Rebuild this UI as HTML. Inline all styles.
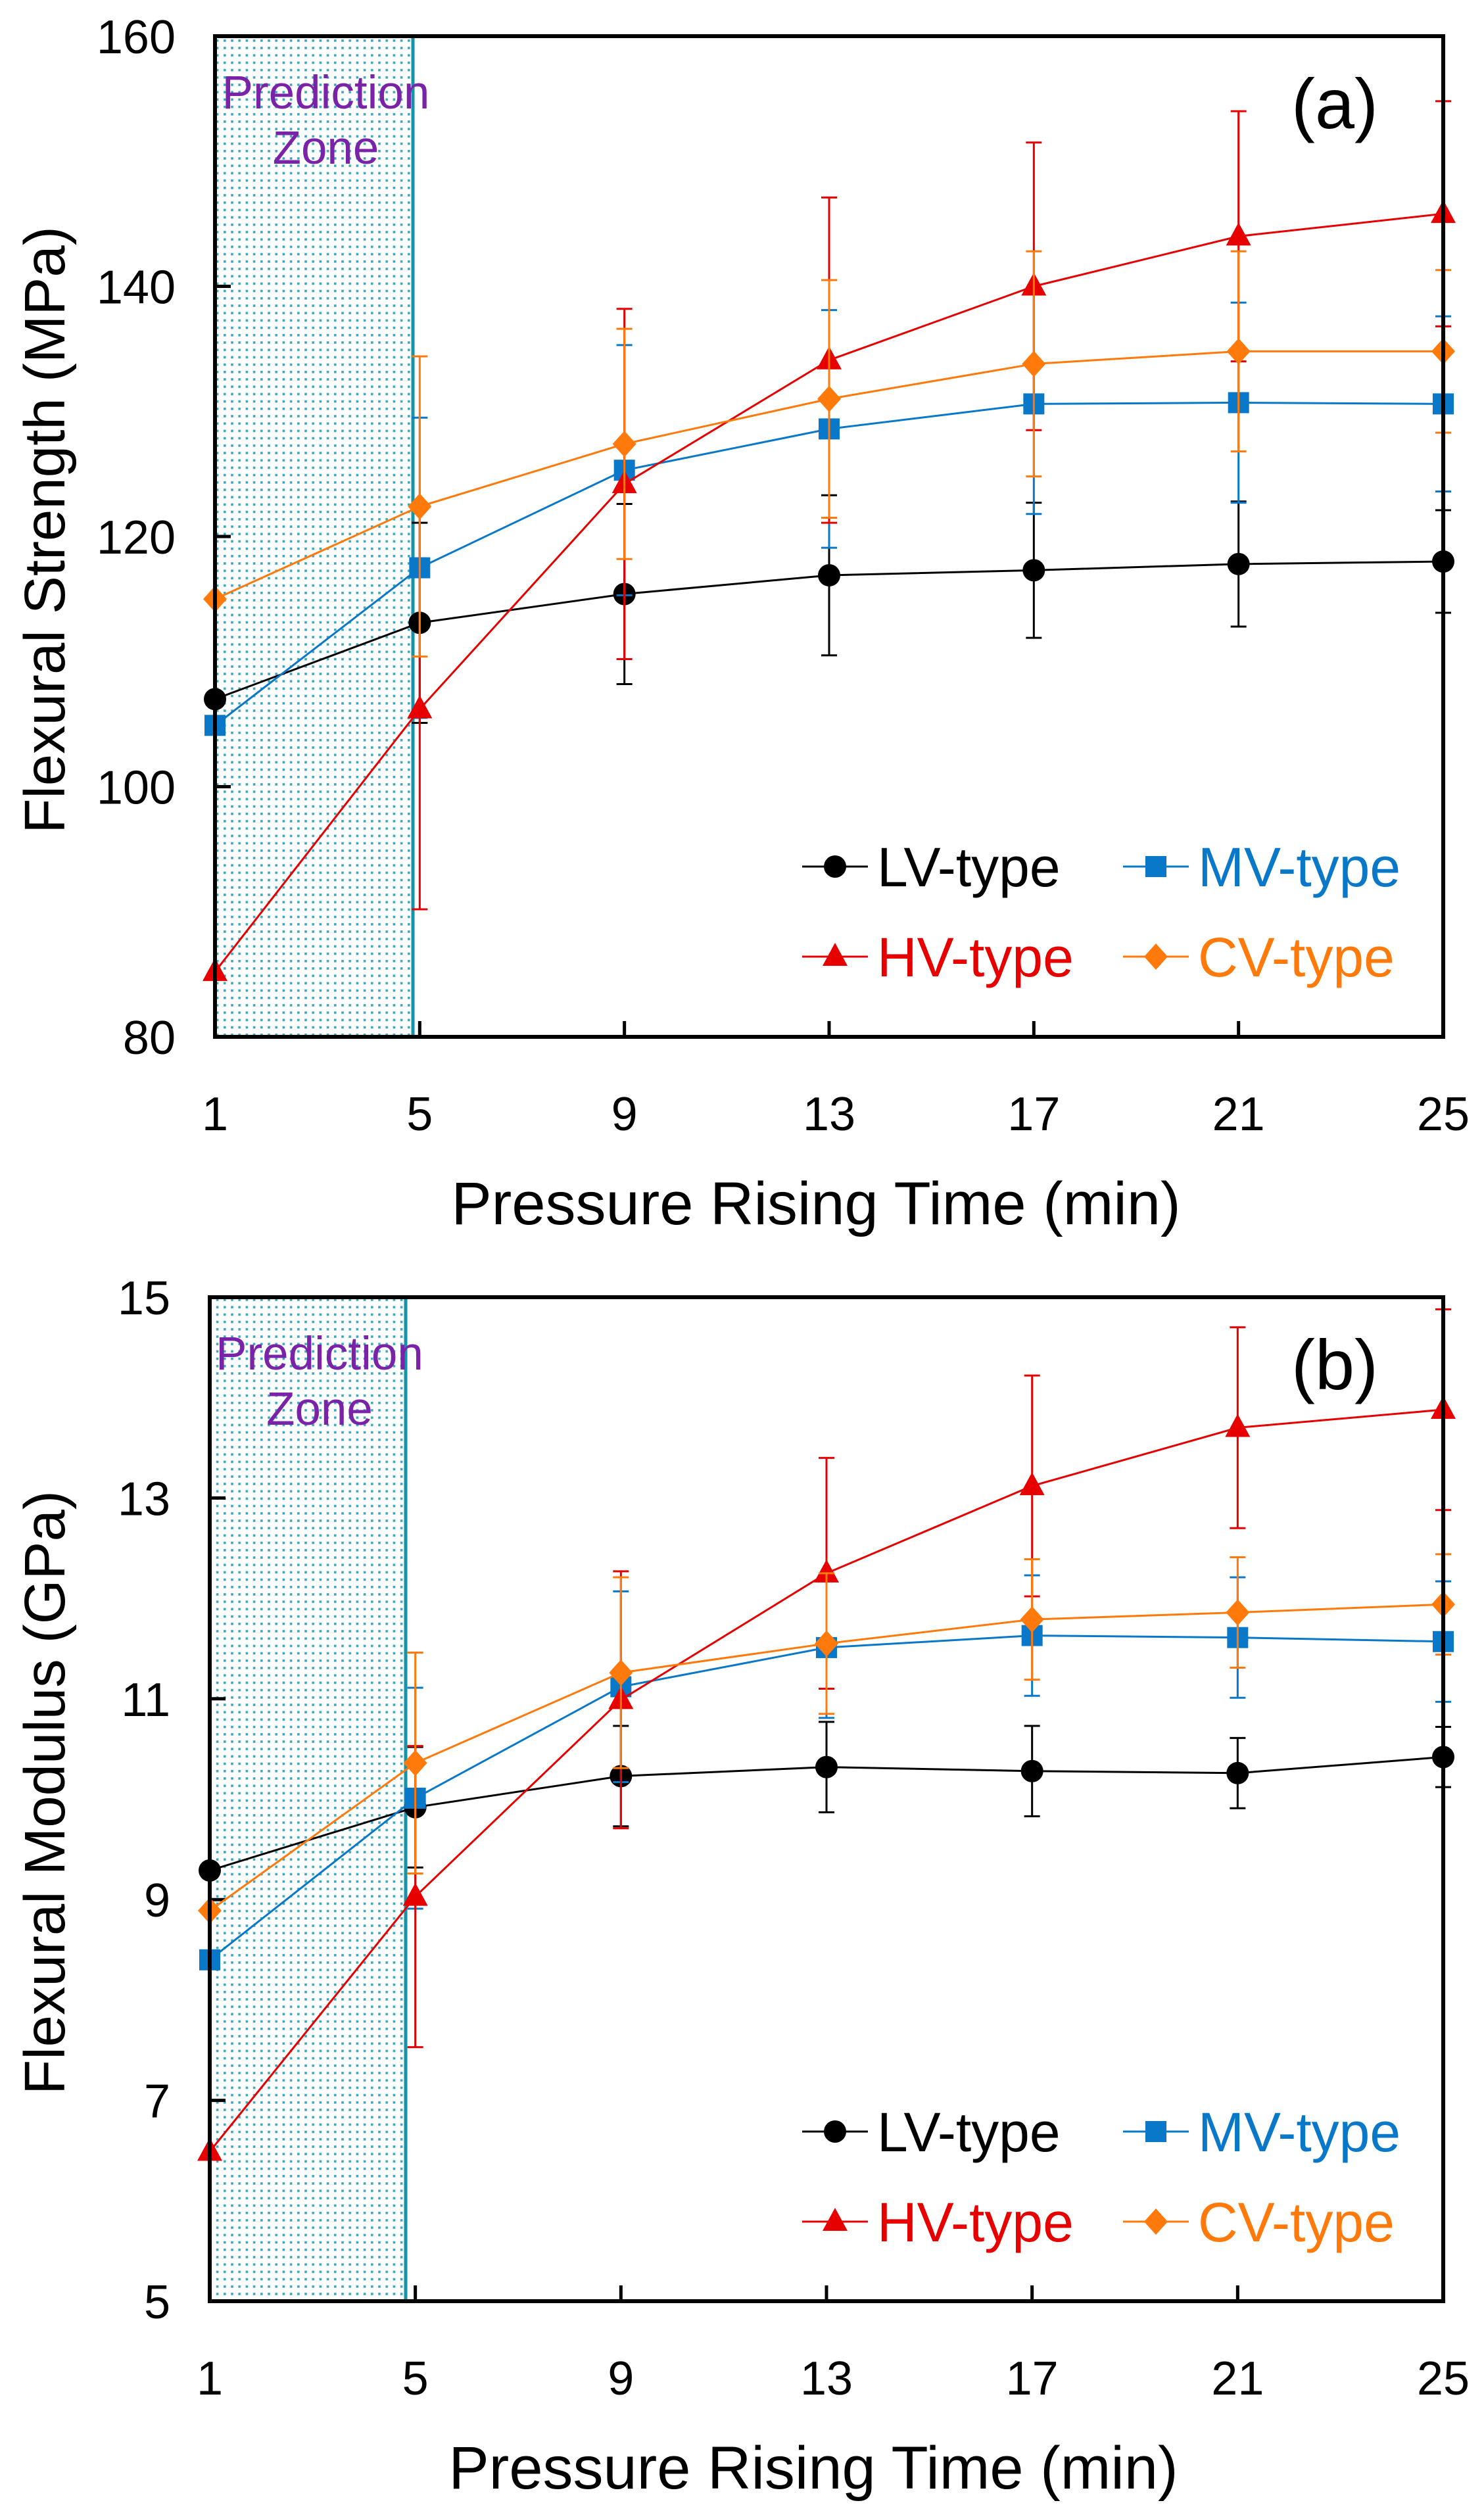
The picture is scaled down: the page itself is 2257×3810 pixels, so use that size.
<!DOCTYPE html>
<html><head><meta charset="utf-8"><style>
html,body{margin:0;padding:0;background:#fff;}
svg{display:block;font-family:"Liberation Sans",Arial,sans-serif;}
</style></head><body>
<svg id="fig" width="2257" height="3810" viewBox="0 0 2257 3810" xmlns="http://www.w3.org/2000/svg">
<defs>
<pattern id="dots" width="11.2" height="11.2" patternUnits="userSpaceOnUse">
<rect x="4" y="4" width="3.6" height="3.6" fill="#3aa8bc"/>
</pattern>
</defs>
</svg>
<script>
const xCategories = [1,5,9,13,17,21,25];
const xTickLabels = ["1","5","9","13","17","21","25"];
const seriesNames = ["LV-type","MV-type","HV-type","CV-type"];
// Panel (a) Flexural strength (MPa)
const aTicks = [80,100,120,140,160];
const aLV = [107.0,113.1,115.4,116.9,117.3,117.8,118.0];
const aMV = [104.9,117.5,125.3,128.6,130.6,130.7,130.6];
const aHV = [85.2,106.2,124.2,134.1,140.0,144.0,145.8];
const aCV = [115.0,122.4,127.4,131.0,133.8,134.8,134.8];
const aLVerr = [0,8,7.2,6.4,5.4,5,4.1];
const aMVerr = [0,12,10,9.5,8.8,8,7];
const aHVerr = [0,16,14,13,11.5,10,9];
const aCVerr = [0,12,9.2,9.5,9,8,6.5];
// Panel (b) Flexural modulus (GPa)
const bTicks = [5,7,9,11,13,15];
const bLV = [9.29,9.92,10.23,10.32,10.28,10.26,10.42];
const bMV = [8.40,10.01,11.12,11.51,11.63,11.61,11.57];
const bHV = [6.49,9.03,10.99,12.25,13.12,13.70,13.88];
const bCV = [8.89,10.36,11.26,11.55,11.79,11.86,11.94];
const bLVerr = [0,0.6,0.5,0.45,0.45,0.35,0.3];
const bMVerr = [0,1.1,0.95,0.7,0.6,0.6,0.6];
const bHVerr = [0,1.5,1.28,1.15,1.1,1.0,1.0];
const bCVerr = [0,1.1,0.95,0.7,0.6,0.55,0.5];

const NS="http://www.w3.org/2000/svg";
const svg=document.getElementById('fig');
const colors=["#000000","#0a78c8","#e60000","#ff7a0a"];
function mk(tag,attrs,parent){const e=document.createElementNS(NS,tag);for(const k in attrs)e.setAttribute(k,attrs[k]);(parent||svg).appendChild(e);return e;}
function marker(g,kind,x,y,c){
  let m;
  if(kind===0) m=mk('circle',{cx:x,cy:y,r:17,fill:c},g);
  else if(kind===1) m=mk('rect',{x:x-16,y:y-16,width:32,height:32,fill:c},g);
  else if(kind===2) m=mk('polygon',{points:`${x},${y-21} ${x+19},${y+14} ${x-19},${y+14}`,fill:c},g);
  else m=mk('polygon',{points:`${x},${y-20} ${x+18},${y} ${x},${y+20} ${x-18},${y}`,fill:c},g);
  return m;
}
function panel(P){
  const g=mk('g',{});
  
  
  const X=v=>P.x0+(v-xCategories[0])/(xCategories[xCategories.length-1]-xCategories[0])*(P.x1-P.x0);
  const Y=v=>P.y1-(v-P.ymin)/(P.ymax-P.ymin)*(P.y1-P.y0);
  const z=mk('rect',{x:P.x0,y:P.y0,width:P.zx-P.x0,height:P.y1-P.y0,fill:"url(#dots)",stroke:"#1593a8","stroke-width":5},g);
  
  
  const zt=mk('text',{x:(P.x0+P.zx)/2+18,y:P.y0+110,"font-size":71,fill:"#7a22a8","text-anchor":"middle"},g);
  zt.textContent="Prediction";
  
  
  const zt2=mk('text',{x:(P.x0+P.zx)/2+18,y:P.y0+194,"font-size":71,fill:"#7a22a8","text-anchor":"middle"},g);
  zt2.textContent="Zone";
  
  
  xCategories.forEach((v,i)=>{
    const t=mk('line',{x1:X(v),x2:X(v),y1:P.y1,y2:P.y1-24,stroke:"#000","stroke-width":5},g);
    
    
    const l=mk('text',{x:X(v),y:P.y1+142,"font-size":72,"text-anchor":"middle",fill:"#000"},g);
    l.textContent=xTickLabels[i];
    
    
  });
  P.ticks.forEach(v=>{
    const t=mk('line',{x1:P.x0,x2:P.x0+24,y1:Y(v),y2:Y(v),stroke:"#000","stroke-width":5},g);
    
    
    const l=mk('text',{x:P.x0-60,y:Y(v)+26,"font-size":72,"text-anchor":"end",fill:"#000"},g);
    l.textContent=String(v);
    
    
  });
  P.series.forEach((s,k)=>{
    const c=colors[k];
    const sg=mk('g',{},g);
    
    
    s.vals.forEach((v,i)=>{
      const e=s.err[i]; if(!e) return;
      const x=X(xCategories[i]);
      const eb=mk('path',{d:`M${x},${Y(v-e)}V${Y(v+e)}M${x-12},${Y(v-e)}H${x+12}M${x-12},${Y(v+e)}H${x+12}`,stroke:c,"stroke-width":3,fill:"none"},sg);
      
      
    });
    const pts=s.vals.map((v,i)=>X(xCategories[i])+","+Y(v)).join(" ");
    const pl=mk('polyline',{points:pts,stroke:c,"stroke-width":3,fill:"none"},sg);
    
    
    s.vals.forEach((v,i)=>{
      const m=marker(sg,k,X(xCategories[i]),Y(v),c);
      
      
    });
  });
  const f=mk('rect',{x:P.x0,y:P.y0,width:P.x1-P.x0,height:P.y1-P.y0,fill:"none",stroke:"#000","stroke-width":6},g);
  
  
  const pl=mk('text',{x:P.x1-165,y:P.y0+140,"font-size":108,fill:"#000","text-anchor":"middle"},g);
  pl.textContent=P.label;
  
  
  const xt=mk('text',{x:(P.x0+P.x1)/2-20,y:P.y1+285,"font-size":92,"text-anchor":"middle",fill:"#000"},g);
  xt.textContent="Pressure Rising Time (min)";
  
  
  const yc=(P.y0+P.y1)/2;
  const yt=mk('text',{x:0,y:0,"font-size":87,"text-anchor":"middle",fill:"#000",transform:`translate(98,${yc-10}) rotate(-90)`},g);
  yt.textContent=P.ytitle;
  
  
  const lg=mk('g',{},g);
  
  
  const pos=[[1220,P.ly1],[1708,P.ly1],[1220,P.ly2],[1708,P.ly2]];
  pos.forEach(([lx,ly],k)=>{
    const c=colors[k];
    const eg=mk('g',{},lg);
    
    
    mk('line',{x1:lx,x2:lx+100,y1:ly,y2:ly,stroke:c,"stroke-width":3},eg);
    marker(eg,k,lx+50,ly,c);
    const t=mk('text',{x:lx+114,y:ly+30,"font-size":84,fill:c},eg);
    t.textContent=seriesNames[k];
  });
}
panel({name:'panel-a-flexural-strength',x0:327,x1:2195,y0:55,y1:1577,zx:628,ymin:80,ymax:160,ticks:aTicks,label:"(a)",ytitle:"Flexural Strength (MPa)",ly1:1318,ly2:1455,
  series:[{vals:aLV,err:aLVerr},{vals:aMV,err:aMVerr},{vals:aHV,err:aHVerr},{vals:aCV,err:aCVerr}]});
panel({name:'panel-b-flexural-modulus',x0:319,x1:2195,y0:1973,y1:3500,zx:617,ymin:5,ymax:15,ticks:bTicks,label:"(b)",ytitle:"Flexural Modulus (GPa)",ly1:3242,ly2:3379,
  series:[{vals:bLV,err:bLVerr},{vals:bMV,err:bMVerr},{vals:bHV,err:bHVerr},{vals:bCV,err:bCVerr}]});
</script>
</body></html>
